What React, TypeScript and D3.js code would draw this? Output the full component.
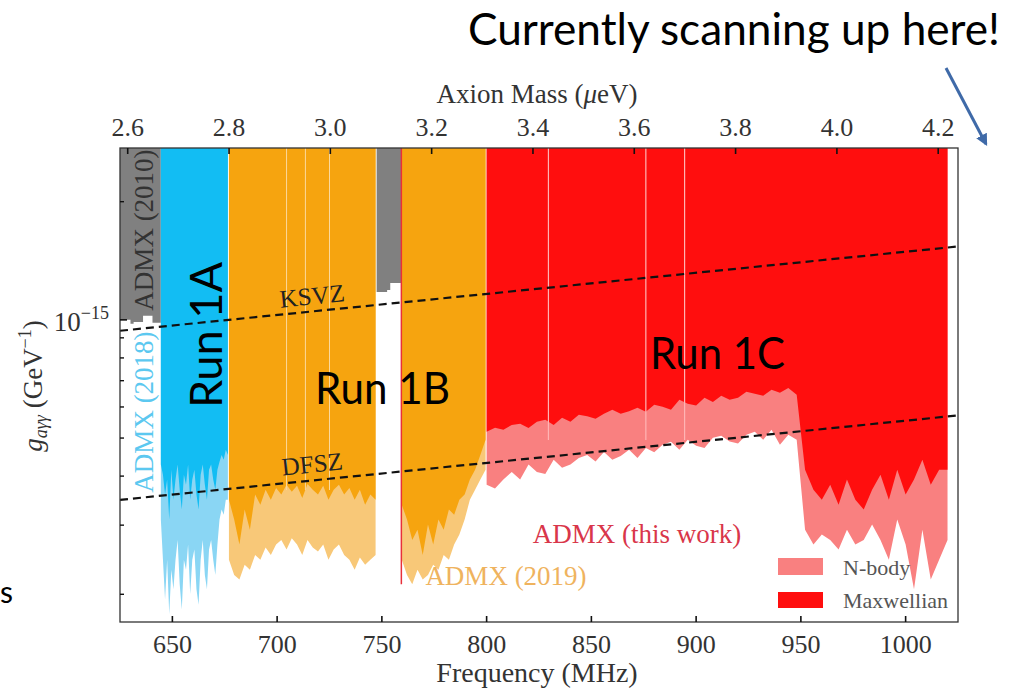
import React from "react";
import * as d3 from "d3";

// ---------- axes ----------
const FREQ_DOMAIN: [number, number] = [625, 1025]; // MHz
const G_DOMAIN: [number, number] = [1.7e-16, 2.74e-15]; // GeV^-1
const FREQ_TICKS = [650, 700, 750, 800, 850, 900, 950, 1000];
const MASS_TICKS = [2.6, 2.8, 3.0, 3.2, 3.4, 3.6, 3.8, 4.0, 4.2];
const MHZ_PER_UEV = 241.799;
const G_MAJOR = [1e-15];
const G_MINOR = [2e-16, 3e-16, 4e-16, 5e-16, 6e-16, 7e-16, 8e-16, 9e-16, 2e-15];

// ---------- limits (units of 1e-15 GeV^-1) ----------
const ADMX2010_A_F = [625, 630, 631.5, 636, 640.5, 644.5];
const ADMX2010_A_G = [1.0, 0.977, 0.988, 1.024, 0.983, 0.983];
const ADMX2010_B_F = [747.5, 752.5, 754, 759.3];
const ADMX2010_B_G = [1.178, 1.192, 1.242, 1.242];

const ADMX2018_START = 644.5;
const ADMX2018_STEP = 1;
const ADMX2018 = [0.428, 0.403, 0.359, 0.392, 0.31, 0.415, 0.348, 0.392, 0.428, 0.369, 0.329, 0.403, 0.38, 0.428, 0.348, 0.392, 0.415, 0.359, 0.329, 0.403, 0.428, 0.38, 0.348, 0.415, 0.428, 0.392, 0.369, 0.415, 0.435, 0.453, 0.44, 0.467, 0.453];
const ADMX2018_FAINT = [0.31, 0.245, 0.194, 0.245, 0.178, 0.231, 0.206, 0.245, 0.275, 0.212, 0.183, 0.245, 0.231, 0.268, 0.2, 0.245, 0.26, 0.206, 0.188, 0.245, 0.275, 0.224, 0.206, 0.26, 0.275, 0.245, 0.224, 0.268, 0.31, 0.329, 0.319, 0.348, 0.348];

const ADMX2019_A_START = 677;
const ADMX2019_A_STEP = 2.5;
const ADMX2019_A_MAX = [0.348, 0.31, 0.268, 0.329, 0.292, 0.359, 0.338, 0.369, 0.348, 0.373, 0.359, 0.38, 0.365, 0.378, 0.352, 0.382, 0.369, 0.359, 0.378, 0.348, 0.369, 0.38, 0.359, 0.373, 0.348, 0.369, 0.338, 0.359, 0.348];
const ADMX2019_A_NB = [0.245, 0.224, 0.218, 0.238, 0.231, 0.252, 0.245, 0.263, 0.252, 0.268, 0.275, 0.26, 0.278, 0.268, 0.252, 0.275, 0.263, 0.257, 0.268, 0.245, 0.26, 0.268, 0.252, 0.245, 0.231, 0.248, 0.238, 0.245, 0.252];
const ADMX2019_B_START = 759.5;
const ADMX2019_B_STEP = 2.5;
const ADMX2019_B_MAX = [0.338, 0.31, 0.275, 0.292, 0.252, 0.301, 0.268, 0.31, 0.292, 0.329, 0.319, 0.348, 0.359, 0.392, 0.415, 0.453, 0.495];
const ADMX2019_B_NB = [0.245, 0.224, 0.212, 0.231, 0.218, 0.224, 0.238, 0.231, 0.252, 0.245, 0.268, 0.284, 0.31, 0.348, 0.369, 0.392, 0.415];

const RUN1C_START = 800;
const RUN1C_STEP = 4;
const RUN1C_MAX = [0.519, 0.531, 0.525, 0.54, 0.544, 0.53, 0.55, 0.557, 0.54, 0.563, 0.55, 0.573, 0.568, 0.56, 0.577, 0.59, 0.577, 0.585, 0.597, 0.583, 0.608, 0.601, 0.59, 0.626, 0.611, 0.605, 0.633, 0.618, 0.641, 0.626, 0.633, 0.656, 0.648, 0.641, 0.664, 0.652, 0.671, 0.645, 0.415, 0.369, 0.348, 0.38, 0.338, 0.392, 0.348, 0.329, 0.369, 0.403, 0.348, 0.415, 0.359, 0.392, 0.44, 0.38, 0.415, 0.415];
const RUN1C_NB = [0.38, 0.372, 0.392, 0.41, 0.392, 0.428, 0.41, 0.405, 0.44, 0.42, 0.428, 0.445, 0.453, 0.436, 0.461, 0.44, 0.45, 0.467, 0.445, 0.472, 0.46, 0.481, 0.489, 0.467, 0.495, 0.478, 0.472, 0.501, 0.507, 0.49, 0.484, 0.51, 0.519, 0.495, 0.525, 0.481, 0.51, 0.495, 0.292, 0.268, 0.284, 0.275, 0.26, 0.292, 0.268, 0.275, 0.301, 0.275, 0.245, 0.31, 0.268, 0.206, 0.292, 0.218, 0.245, 0.275];

const RUN1C_EDGE_F = 759.3;
const RUN1C_EDGE_G = 0.212;
const GAP_LINES_ORANGE = [704.5, 713.5, 725];
const GAP_LINES_RED = [829.5, 876, 894.5];

// benchmark model lines
const MODEL_F = [625, 1025];
const KSVZ_G = [0.938, 1.538];
const DFSZ_G = [0.348, 0.571];

// ---------- layout ----------
const L = 120, R = 958, T = 148, B = 622;
const SERIF = "'Liberation Serif', 'DejaVu Serif', serif";
const SANS = "Lato, 'Open Sans', sans-serif";

const x = d3.scaleLinear().domain(FREQ_DOMAIN).range([L, R]);
const y = d3.scaleLog().domain(G_DOMAIN).range([B, T]);

type Pt = [number, number];
const series = (start: number, step: number, vals: number[]): Pt[] =>
  vals.map((v, i) => [start + i * step, v]);
const zipPts = (fs: number[], gs: number[]): Pt[] => fs.map((f, i) => [f, gs[i]]);

const areaLin = d3
  .area<Pt>()
  .x((d) => x(d[0]))
  .y0(T)
  .y1((d) => y(d[1] * 1e-15))
  .curve(d3.curveLinear);
const areaStep = d3
  .area<Pt>()
  .x((d) => x(d[0]))
  .y0(T)
  .y1((d) => y(d[1] * 1e-15))
  .curve(d3.curveStepAfter);
const lineGen = d3
  .line<Pt>()
  .x((d) => x(d[0]))
  .y((d) => y(d[1] * 1e-15));

const C = {
  gray: "#808080",
  blue: "#12bdf3",
  blueFaint: "#8ad6f4",
  orange: "#f6a40f",
  orangeNB: "#f8c878",
  red: "#ff0e0e",
  pink: "#f98080",
};

export default function App() {
  const ksvz = zipPts(MODEL_F, KSVZ_G);
  const dfsz = zipPts(MODEL_F, DFSZ_G);
  const ksvzAngle = (Math.atan2(y(KSVZ_G[1] * 1e-15) - y(KSVZ_G[0] * 1e-15), R - L) * 180) / Math.PI;
  const lineY = (g: number[], xp: number) => {
    const t = (xp - L) / (R - L);
    return y(g[0] * 1e-15) + t * (y(g[1] * 1e-15) - y(g[0] * 1e-15));
  };

  return (
    <svg width={1010} height={688} style={{ position: "absolute", left: 0, top: 0, background: "#fff" }}>
      {/* ADMX 2010 */}
      <path d={areaStep(zipPts(ADMX2010_A_F, ADMX2010_A_G)) || ""} fill={C.gray} />
      <path d={areaStep(zipPts(ADMX2010_B_F, ADMX2010_B_G)) || ""} fill={C.gray} />
      {/* ADMX 2018 */}
      <path d={areaLin(series(ADMX2018_START, ADMX2018_STEP, ADMX2018_FAINT)) || ""} fill={C.blueFaint} />
      <path d={areaLin(series(ADMX2018_START, ADMX2018_STEP, ADMX2018)) || ""} fill={C.blue} />
      {/* ADMX 2019 */}
      <path d={areaLin(series(ADMX2019_A_START, ADMX2019_A_STEP, ADMX2019_A_NB)) || ""} fill={C.orangeNB} />
      <path d={areaLin(series(ADMX2019_A_START, ADMX2019_A_STEP, ADMX2019_A_MAX)) || ""} fill={C.orange} />
      <path d={areaLin(series(ADMX2019_B_START, ADMX2019_B_STEP, ADMX2019_B_NB)) || ""} fill={C.orangeNB} />
      <path d={areaLin(series(ADMX2019_B_START, ADMX2019_B_STEP, ADMX2019_B_MAX)) || ""} fill={C.orange} />
      {/* Run 1C */}
      <path d={areaLin(series(RUN1C_START, RUN1C_STEP, RUN1C_NB)) || ""} fill={C.pink} />
      <path d={areaLin(series(RUN1C_START, RUN1C_STEP, RUN1C_MAX)) || ""} fill={C.red} />
      <line x1={x(RUN1C_EDGE_F)} x2={x(RUN1C_EDGE_F)} y1={T} y2={y(RUN1C_EDGE_G * 1e-15)} stroke="#e8303a" strokeWidth={1.5} />
      {GAP_LINES_ORANGE.map((f) => (
        <line key={f} x1={x(f)} x2={x(f)} y1={T} y2={490} stroke="#fbd89c" strokeWidth={1} />
      ))}
      {GAP_LINES_RED.map((f) => (
        <line key={f} x1={x(f)} x2={x(f)} y1={T} y2={440} stroke="#ffb4b4" strokeWidth={1.2} />
      ))}

      {/* model lines */}
      <path d={lineGen(ksvz) || ""} stroke="#111" strokeWidth={2.2} strokeDasharray="8,5" fill="none" />
      <path d={lineGen(dfsz) || ""} stroke="#111" strokeWidth={2.2} strokeDasharray="8,5" fill="none" />
      <text transform={`translate(313,${lineY(KSVZ_G, 313) - 7}) rotate(${ksvzAngle})`} textAnchor="middle" fontFamily={SERIF} fontSize={25} fill="#222">KSVZ</text>
      <text transform={`translate(313,${lineY(DFSZ_G, 313) - 8}) rotate(${ksvzAngle})`} textAnchor="middle" fontFamily={SERIF} fontSize={25} fill="#222">DFSZ</text>

      {/* in-plot labels */}
      <text transform="translate(153,230) rotate(-90)" textAnchor="middle" fontFamily={SERIF} fontSize={27} fill="#333">ADMX (2010)</text>
      <text transform="translate(153,412) rotate(-90)" textAnchor="middle" fontFamily={SERIF} fontSize={27} fill="#5cc8f0">ADMX (2018)</text>
      <text x={637} y={543} textAnchor="middle" fontFamily={SERIF} fontSize={27} fill="#d9364a">ADMX (this work)</text>
      <text x={506} y={585} textAnchor="middle" fontFamily={SERIF} fontSize={27} fill="#efb35e">ADMX (2019)</text>

      {/* legend */}
      <rect x={778} y={558} width={45} height={17} fill={C.pink} />
      <rect x={778} y={592} width={45} height={16} fill={C.red} />
      <text x={843} y={575} fontFamily={SERIF} fontSize={22} fill="#555">N-body</text>
      <text x={843} y={608} fontFamily={SERIF} fontSize={22} fill="#555">Maxwellian</text>

      {/* frame */}
      <rect x={L} y={T} width={R - L} height={B - T} fill="none" stroke="#333" strokeWidth={1.3} />

      {/* bottom axis */}
      {FREQ_TICKS.map((f) => (
        <g key={f}>
          <line x1={x(f)} x2={x(f)} y1={B} y2={B - 6} stroke="#111" strokeWidth={1.6} />
          <text x={x(f)} y={653} textAnchor="middle" fontFamily={SERIF} fontSize={26} fill="#333">{f}</text>
        </g>
      ))}
      <text x={537} y={682} textAnchor="middle" fontFamily={SERIF} fontSize={28} fill="#333">Frequency (MHz)</text>

      {/* top axis */}
      {MASS_TICKS.map((m) => (
        <g key={m}>
          <line x1={x(m * MHZ_PER_UEV)} x2={x(m * MHZ_PER_UEV)} y1={T} y2={T + 6} stroke="#111" strokeWidth={1.6} />
          <text x={x(m * MHZ_PER_UEV)} y={136} textAnchor="middle" fontFamily={SERIF} fontSize={26} fill="#333">{m.toFixed(1)}</text>
        </g>
      ))}
      <text x={537} y={103} textAnchor="middle" fontFamily={SERIF} fontSize={27} fill="#333">
        Axion Mass (<tspan fontStyle="italic">μ</tspan>eV)
      </text>

      {/* left axis */}
      {G_MAJOR.map((g) => (
        <g key={g}>
          <line x1={L} x2={L + 7} y1={y(g)} y2={y(g)} stroke="#111" strokeWidth={1.6} />
          <text x={109} y={y(g) + 11} textAnchor="end" fontFamily={SERIF} fontSize={27} fill="#333">
            10<tspan fontSize={18} dy={-12}>−15</tspan>
          </text>
        </g>
      ))}
      {G_MINOR.map((g) => (
        <line key={g} x1={L} x2={L + 4} y1={y(g)} y2={y(g)} stroke="#111" strokeWidth={1.4} />
      ))}
      <text transform="translate(42,386) rotate(-90)" textAnchor="middle" fontFamily={SERIF} fontSize={27} fill="#333">
        <tspan fontStyle="italic">g</tspan>
        <tspan fontSize={18} dy={5} fontStyle="italic">aγγ</tspan>
        <tspan dy={-5}> (GeV</tspan>
        <tspan fontSize={18} dy={-11}>−1</tspan>
        <tspan dy={11}>)</tspan>
      </text>

      {/* presentation overlay */}
      <text x={468} y={45} fontFamily={SANS} fontSize={44} fill="#000" textLength={532} lengthAdjust="spacingAndGlyphs">Currently scanning up here!</text>
      <defs>
        <marker id="ah" viewBox="0 0 10 10" refX="8" refY="5" markerWidth="4" markerHeight="4" orient="auto">
          <path d="M0,0 L10,5 L0,10 z" fill="#3f6aa8" />
        </marker>
      </defs>
      <line x1={946} y1={68} x2={986} y2={144} stroke="#3f6aa8" strokeWidth={3} markerEnd="url(#ah)" />
      <text transform="translate(222,335) rotate(-90)" textAnchor="middle" fontFamily={SANS} fontSize={44} fill="#000" textLength={146} lengthAdjust="spacingAndGlyphs">Run 1A</text>
      <text x={315} y={404} fontFamily={SANS} fontSize={44} fill="#000" textLength={135} lengthAdjust="spacingAndGlyphs">Run 1B</text>
      <text x={650} y={369} fontFamily={SANS} fontSize={44} fill="#000" textLength={135} lengthAdjust="spacingAndGlyphs">Run 1C</text>
      <text x={0} y={603} fontFamily={SANS} fontSize={30} fill="#000">s</text>
    </svg>
  );
}
